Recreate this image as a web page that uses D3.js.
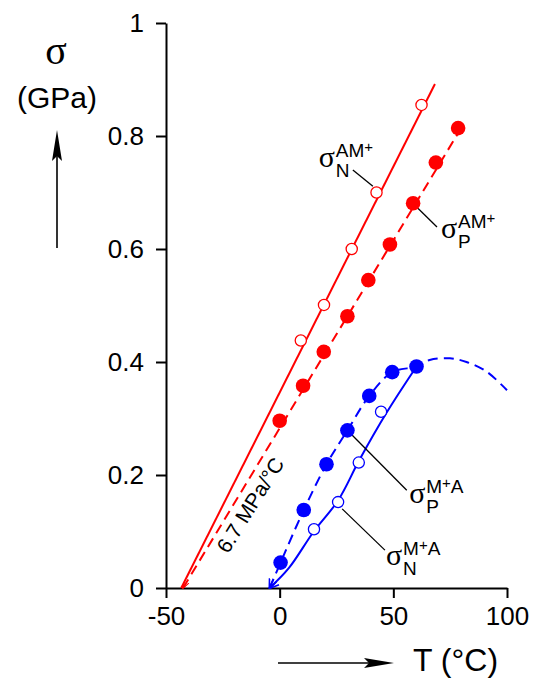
<!DOCTYPE html>
<html>
<head>
<meta charset="utf-8">
<script src="https://cdn.jsdelivr.net/npm/d3@7"></script>
<style>
body { margin: 0; background: #fff; }
</style>
</head>
<body>
<script>
// measured points
var tempN_AM = [9.3, 19.5, 31.7, 42.6, 62.4];
var sigN_AM = [0.438, 0.501, 0.600, 0.700, 0.855];
var tempP_AM = [0, 10.3, 19.4, 29.8, 39, 48.5, 58.7, 68.7, 78.5];
var sigP_AM = [0.296, 0.358, 0.418, 0.481, 0.545, 0.608, 0.681, 0.753, 0.814];
var tempP_MA = [0.4, 10.6, 20.6, 29.8, 39.4, 49.5, 60.2];
var sigP_MA = [0.045, 0.138, 0.219, 0.279, 0.34, 0.382, 0.392];
var tempN_MA = [15.1, 25.7, 34.8, 44.6];
var sigN_MA = [0.104, 0.152, 0.222, 0.312];

// fitted lines / curves
var fitN_AM_T = [-43.3, 68.3];
var fitN_AM_S = [0, 0.892];
var fitP_AM_T = [-42.5, 80];
var fitP_AM_S = [0, 0.815];
var fitN_MA_T = [-4.4, 4, 15, 25.7, 35, 47, 60.2];
var fitN_MA_S = [0, 0.035, 0.1, 0.155, 0.226, 0.31, 0.392];
var fitP_MA_T = [-4.4, 0.4, 10.6, 20.6, 29.8, 39.4, 49.5, 60.2, 66, 74.9, 82.2, 91, 100];
var fitP_MA_S = [0, 0.045, 0.138, 0.219, 0.279, 0.34, 0.382, 0.392, 0.4035, 0.4065, 0.4, 0.383, 0.35];

var xTicks = [-50, 0, 50, 100];
var xTickLabels = ['-50', '0', '50', '100'];
var yTicks = [0, 0.2, 0.4, 0.6, 0.8, 1];
var yTickLabels = ['0', '0.2', '0.4', '0.6', '0.8', '1'];

var sans = '"Liberation Sans", Arial, sans-serif';
var serif = '"Liberation Serif", "Times New Roman", serif';

var x = d3.scaleLinear().domain([-50, 100]).range([166, 507]);
var y = d3.scaleLinear().domain([0, 1]).range([588, 23]);

function zip(a, b) {
  return a.map(function (v, i) { return [v, b[i]]; });
}

var svg = d3.select('body').append('svg').attr('width', 533).attr('height', 682)
  .attr('font-family', sans);

var defs = svg.append('defs');
defs.append('marker').attr('id', 'arrBlue').attr('viewBox', '0 0 10 10')
  .attr('refX', 9).attr('refY', 5).attr('markerWidth', 10).attr('markerHeight', 10)
  .attr('markerUnits', 'userSpaceOnUse').attr('orient', 'auto-start-reverse')
  .append('path').attr('d', 'M0,1 L10,5 L0,9').attr('fill', 'none').attr('stroke', '#0000ff').attr('stroke-width', 1.6);
defs.append('marker').attr('id', 'arrRed').attr('viewBox', '0 0 10 10')
  .attr('refX', 9).attr('refY', 5).attr('markerWidth', 8).attr('markerHeight', 8)
  .attr('markerUnits', 'userSpaceOnUse').attr('orient', 'auto-start-reverse')
  .append('path').attr('d', 'M0,2 L10,5 L0,8').attr('fill', 'none').attr('stroke', '#ff0000').attr('stroke-width', 1.3);

// axes
var yAxis = d3.axisLeft(y).tickValues(yTicks).tickFormat(function (d, i) { return yTickLabels[i]; })
  .tickSize(10).tickSizeOuter(0).tickPadding(12);
var xAxis = d3.axisBottom(x).tickValues(xTicks).tickFormat(function (d, i) { return xTickLabels[i]; })
  .tickSize(10).tickSizeOuter(0).tickPadding(9);

var gy = svg.append('g').attr('transform', 'translate(' + x(-50) + ',0)').call(yAxis);
var gx = svg.append('g').attr('transform', 'translate(0,' + y(0) + ')').call(xAxis);
[gx, gy].forEach(function (g) {
  g.attr('font-family', sans).attr('font-size', 26);
  g.selectAll('path, line').attr('stroke', '#000').attr('stroke-width', 2);
  g.selectAll('text').attr('fill', '#000');
});

var line = d3.line().x(function (d) { return x(d[0]); }).y(function (d) { return y(d[1]); });
var curve = d3.line().curve(d3.curveCatmullRom.alpha(0.5))
  .x(function (d) { return x(d[0]); }).y(function (d) { return y(d[1]); });

var plot = svg.append('g');
plot.append('path').attr('d', line(zip(fitN_AM_T, fitN_AM_S))).attr('fill', 'none')
  .attr('stroke', '#ff0000').attr('stroke-width', 2);
plot.append('path').attr('d', line(zip(fitP_AM_T, fitP_AM_S))).attr('fill', 'none')
  .attr('stroke', '#ff0000').attr('stroke-width', 2).attr('stroke-dasharray', '10,6')
  .attr('marker-start', 'url(#arrRed)');
plot.append('path').attr('d', curve(zip(fitN_MA_T, fitN_MA_S))).attr('fill', 'none')
  .attr('stroke', '#0000ff').attr('stroke-width', 2).attr('marker-start', 'url(#arrBlue)');
plot.append('path').attr('d', curve(zip(fitP_MA_T, fitP_MA_S))).attr('fill', 'none')
  .attr('stroke', '#0000ff').attr('stroke-width', 2).attr('stroke-dasharray', '10,6')
  .attr('marker-start', 'url(#arrBlue)');

// leader lines for labels
var labels = [
  {T: 17.2, s: 0.745, sub: 'N', sup: ['AM', '+', ''], lead: [[32.2, 0.740], [41.0, 0.711]]},
  {T: 71.0, s: 0.619, sub: 'P', sup: ['AM', '+', ''], lead: [[60.8, 0.672], [69.2, 0.639]]},
  {T: 57.0, s: 0.150, sub: 'P', sup: ['M', '+', 'A'], lead: [[31.5, 0.272], [55.9, 0.173]]},
  {T: 46.8, s: 0.041, sub: 'N', sup: ['M', '+', 'A'], lead: [[27.5, 0.140], [46.3, 0.067]]}
];
plot.selectAll('.lead').data(labels).enter().append('path').attr('class', 'lead')
  .attr('d', function (d) { return line(d.lead); })
  .attr('stroke', '#000').attr('stroke-width', 1.3).attr('fill', 'none');

// points
plot.selectAll('.pAM').data(zip(tempP_AM, sigP_AM)).enter().append('circle').attr('class', 'pAM')
  .attr('cx', function (d) { return x(d[0]); }).attr('cy', function (d) { return y(d[1]); })
  .attr('r', 7.3).attr('fill', '#ff0000');
plot.selectAll('.nAM').data(zip(tempN_AM, sigN_AM)).enter().append('circle').attr('class', 'nAM')
  .attr('cx', function (d) { return x(d[0]); }).attr('cy', function (d) { return y(d[1]); })
  .attr('r', 5.6).attr('fill', '#fff').attr('stroke', '#ff0000').attr('stroke-width', 1.3);
plot.selectAll('.pMA').data(zip(tempP_MA, sigP_MA)).enter().append('circle').attr('class', 'pMA')
  .attr('cx', function (d) { return x(d[0]); }).attr('cy', function (d) { return y(d[1]); })
  .attr('r', 7.3).attr('fill', '#0000ff');
plot.selectAll('.nMA').data(zip(tempN_MA, sigN_MA)).enter().append('circle').attr('class', 'nMA')
  .attr('cx', function (d) { return x(d[0]); }).attr('cy', function (d) { return y(d[1]); })
  .attr('r', 5.6).attr('fill', '#fff').attr('stroke', '#0000ff').attr('stroke-width', 1.3);

// sigma labels
labels.forEach(function (d) {
  var lx = x(d.T), ly = y(d.s);
  svg.append('text').attr('x', lx).attr('y', ly).text('σ')
    .attr('font-family', serif).attr('font-size', 30);
  var t = svg.append('text').attr('x', lx + 17).attr('y', ly - 10).attr('font-size', 19);
  t.append('tspan').text(d.sup[0]);
  t.append('tspan').attr('dy', -5).attr('font-size', 15).text(d.sup[1]);
  if (d.sup[2]) t.append('tspan').attr('dy', 5).text(d.sup[2]);
  svg.append('text').attr('x', lx + 17).attr('y', ly + 10).attr('font-size', 19).text(d.sub);
});

// slope annotation
var slopeAt = [-13.0, 0.147];
svg.append('text').attr('transform', 'translate(' + x(slopeAt[0]) + ',' + y(slopeAt[1]) + ') rotate(-58)')
  .attr('text-anchor', 'middle').attr('dominant-baseline', 'central').attr('font-size', 21)
  .text('6.7 MPa/°C');

// axis titles with arrows
svg.append('text').attr('x', 56).attr('y', 64).attr('text-anchor', 'middle')
  .attr('font-family', serif).attr('font-size', 40).text('σ');
svg.append('text').attr('x', 57).attr('y', 108).attr('text-anchor', 'middle')
  .attr('font-size', 30).text('(GPa)');
svg.append('line').attr('x1', 57).attr('y1', 248).attr('x2', 57).attr('y2', 150)
  .attr('stroke', '#000').attr('stroke-width', 1.6);
svg.append('path').attr('d', 'M57,130 L62,161 L57,156 L52,161 Z').attr('fill', '#000');

svg.append('line').attr('x1', 278).attr('y1', 663).attr('x2', 375).attr('y2', 663)
  .attr('stroke', '#000').attr('stroke-width', 1.6);
svg.append('path').attr('d', 'M394,663 L364,658 L369,663 L364,668 Z').attr('fill', '#000');
svg.append('text').attr('x', 413).attr('y', 671).attr('font-size', 32).text('T (°C)');
</script>
</body>
</html>
